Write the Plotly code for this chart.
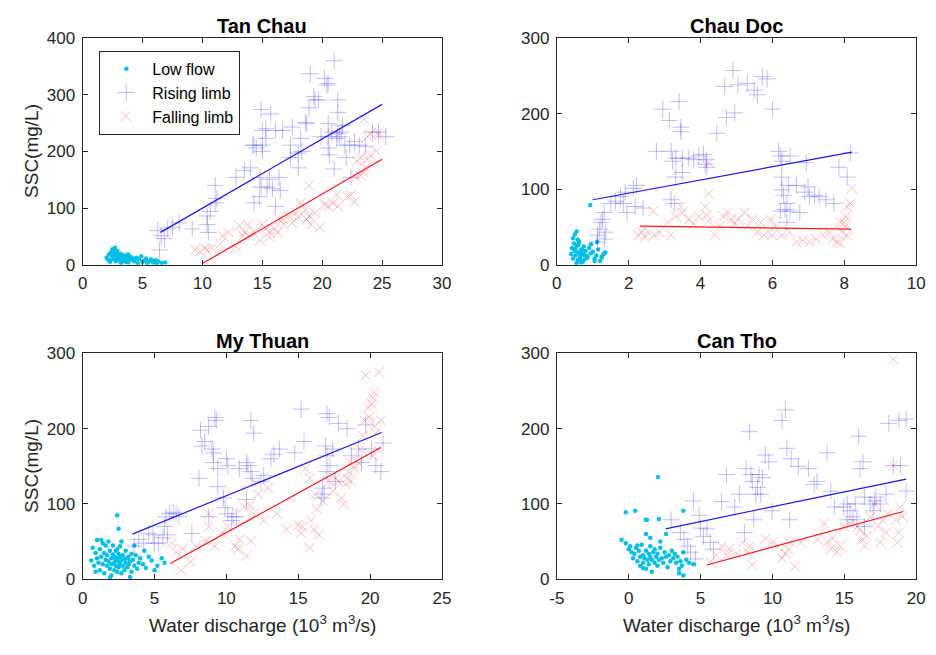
import plotly.graph_objects as go

# ---------------- DATA ----------------
# Tan Chau
tc_low_x = [2.0,2.2,2.3,2.4,2.5,2.5,2.6,2.7,2.8,2.8,2.9,3.0,3.0,3.1,3.2,3.3,3.4,3.5,3.6,3.7,3.8,3.9,4.0,4.1,4.3,4.5,4.7,4.9,5.1,5.3,5.5,5.7,5.9,6.1,6.3,6.6,6.9,2.3,2.6,2.9,3.2,3.5,3.8,4.2,4.6,5.0,5.4,5.8,6.2,2.1,2.7,3.1,3.6,4.4]
tc_low_y = [12,18,8,22,15,27,10,20,6,14,24,11,17,9,19,13,7,16,5,12,18,8,14,10,6,12,9,15,7,11,5,9,4,8,6,3,4,5,25,13,3,9,4,11,2,5,3,6,2,9,30,16,14,10]
tc_rise_x = [6.28,6.56,6.83,6.42,7.1,7.5,8.06,9.15,10.4,10.66,11.07,11.2,10.5,10.4,11.07,12.8,14.0,14.2,14.3,14.5,14.8,14.3,14.75,14.9,15.4,15.6,16.4,16.1,15.85,16.5,14.9,15.0,15.3,15.7,15.3,15.0,16.7,17.5,17.35,18.0,18.3,18.6,18.7,18.9,19.3,19.4,19.7,19.0,20.2,20.4,20.5,21.0,20.5,20.8,20.5,20.6,21.0,21.3,21.3,21.3,21.45,21.6,21.2,21.7,21.9,22.0,22.3,22.7,22.4,23.1,23.6,24.2,24.7,25.3,17.35,18.0,18.2,19.9,20.5,16.1,15.0,13.5]
tc_rise_y = [60,51,46,26,63,66,74,63,86,94,109,117,57,71,140,154,171,211,211,206,154,109,120,137,137,151,154,103,134,131,274,237,240,266,223,211,237,243,211,197,200,251,249,277,297,291,291,337,329,317,320,360,249,234,206,194,169,291,269,231,226,234,223,246,211,189,211,217,154,211,209,234,234,226,189,171,223,226,226,237,200,166]
tc_fall_x = [9.4,9.8,10.2,10.4,10.8,11.5,12.2,12.8,13.1,13.5,13.9,14.3,14.8,15.0,15.3,15.6,16.0,16.3,16.7,17.2,17.5,17.8,18.2,18.6,18.9,19.1,19.4,19.8,20.2,20.5,20.9,21.2,21.3,22.1,22.4,22.7,18.9,22.8,23.2,23.4,23.6,23.8,24.0,24.5,23.2,22.9,23.5,23.8,24.0,24.7,24.7,18.0,18.7,16.4,13.8,11.7,13.4,15.6,16.8]
tc_fall_y = [26,23,29,26,29,37,57,31,69,57,51,57,43,71,63,57,63,57,80,86,74,91,109,97,86,71,91,66,106,103,109,123,103,120,123,111,140,154,157,163,171,186,194,200,189,183,257,226,231,229,234,83,80,80,71,51,51,49,71]
tc_rise_fit_x = [6.5, 25.0]
tc_rise_fit_y = [57, 283]
tc_fall_fit_x = [10.0, 25.0]
tc_fall_fit_y = [2, 186]

# Chau Doc
cd_low_x = [0.40,0.42,0.45,0.48,0.50,0.52,0.55,0.58,0.60,0.62,0.65,0.68,0.70,0.72,0.75,0.78,0.80,0.85,0.90,0.95,1.00,1.05,1.10,1.15,1.20,1.25,1.30,1.35,0.45,0.50,0.55,0.60,0.65,0.70,0.75,0.85,0.95,1.05,1.25,0.52,0.58,0.64,0.93,0.55,0.47,0.68,1.12,0.78]
cd_low_y = [14,22,8,28,18,12,25,6,16,30,10,20,14,4,24,12,18,9,22,15,17,8,12,20,5,10,14,16,35,40,2,26,7,19,13,11,27,5,9,21,33,15,79,44,20,3,30,7]
cd_rise_x = [1.13,1.18,1.23,1.27,1.32,1.13,1.32,1.36,1.5,1.63,1.77,1.86,1.9,1.95,2.13,2.22,2.18,2.4,2.77,2.95,3.13,3.18,3.22,3.18,3.27,3.4,3.45,3.45,3.31,3.49,3.49,3.31,3.67,3.81,3.95,4.08,4.17,4.17,4.13,4.45,4.67,4.72,4.9,4.95,5.04,5.3,5.49,5.58,5.72,5.85,6.0,6.17,6.22,6.26,6.26,6.31,6.35,6.4,6.44,6.49,6.67,6.76,6.9,6.99,7.03,7.17,7.3,7.49,7.71,7.85,8.08,8.17,6.22,6.4,6.94,6.49,6.26]
cd_rise_y = [39,47,56,60,69,30,34,43,81,84,90,81,96,69,101,105,77,75,150,206,191,150,137,86,81,216,182,176,141,141,122,116,141,139,144,146,139,129,133,174,236,195,257,201,238,240,231,225,249,246,206,150,144,116,99,92,73,81,105,71,105,69,96,103,90,92,90,86,81,129,116,148,71,56,135,144,137]
cd_fall_x = [2.27,2.36,2.45,2.54,2.68,2.72,2.86,3.09,3.18,3.31,3.45,3.49,3.67,3.81,3.95,4.13,4.17,4.22,4.22,4.22,4.4,4.54,4.63,4.76,4.86,4.95,5.04,5.22,5.31,5.44,5.58,5.67,5.76,5.94,5.99,6.08,6.26,6.49,6.67,6.85,7.03,7.21,7.4,7.58,7.67,7.8,7.89,7.94,7.99,8.03,8.08,8.17,8.21,7.89,8.08,8.03]
cd_fall_y = [39,43,36,43,71,39,43,56,39,64,77,69,60,54,64,77,66,58,135,94,39,51,64,69,60,54,60,69,51,60,43,56,39,60,39,51,39,43,30,32,30,34,39,43,34,30,28,43,56,51,77,81,101,56,39,64]
cd_rise_fit_x = [1.0, 8.21]
cd_rise_fit_y = [86, 149]
cd_fall_fit_x = [2.31, 8.19]
cd_fall_fit_y = [51, 47]

# My Thuan
mt_low_x = [0.6,0.7,0.8,0.9,1.0,1.0,1.1,1.2,1.2,1.3,1.4,1.4,1.5,1.5,1.6,1.6,1.7,1.7,1.8,1.8,1.9,1.9,2.0,2.0,2.0,2.1,2.1,2.2,2.2,2.2,2.3,2.3,2.3,2.4,2.4,2.4,2.5,2.5,2.5,2.6,2.6,2.6,2.7,2.7,2.8,2.8,2.9,2.9,3.0,3.0,3.1,3.1,3.2,3.2,3.3,3.4,3.4,3.5,3.6,3.7,3.8,3.9,4.0,4.2,4.4,4.6,4.8,5.0,5.2,5.5,5.7,2.4,2.5,1.3,0.9,3.6,4.3,1.9,2.7,3.3]
mt_low_y = [25,42,18,35,28,52,22,40,12,30,48,20,35,8,26,45,18,32,24,50,14,38,28,20,5,33,45,22,30,12,26,38,18,28,10,40,24,34,16,30,20,44,25,8,32,18,27,12,22,38,28,16,30,20,24,34,10,26,18,32,14,22,28,20,15,30,25,12,18,28,22,85,67,52,10,45,38,2,50,3]
mt_rise_x = [3.57,3.9,4.25,4.6,4.9,5.0,5.27,5.6,5.7,5.8,6.06,6.3,6.5,6.7,5.9,7.6,8.1,8.2,8.3,8.5,8.77,8.77,9.0,9.1,9.2,9.3,9.1,9.4,9.4,9.8,9.9,10.0,10.1,10.1,10.35,10.46,10.7,10.9,11.4,11.4,11.5,11.7,11.9,11.7,11.8,12.4,12.6,13.1,13.3,13.7,14.76,15.2,15.4,17.0,17.15,17.0,17.2,17.4,16.9,16.8,16.7,17.0,16.6,17.8,18.4,18.7,19.2,19.4,19.7,20.1,20.4,20.9,20.75,17.6]
mt_rise_y = [44,53,48,61,59,48,48,55,70,83,87,89,87,83,59,61,134,198,177,183,83,203,173,168,215,211,155,147,123,108,95,160,151,87,78,83,83,147,155,106,151,211,194,143,134,130,138,160,166,173,168,226,183,220,215,164,151,173,177,113,121,143,108,207,200,164,173,155,205,173,151,181,143,130]
mt_fall_x = [6.2,6.5,6.85,6.96,7.5,7.86,8.54,8.77,8.77,9.2,9.7,10.1,10.6,10.8,10.9,11.25,11.4,11.7,11.9,11.6,12.2,12.9,14.2,15.0,15.2,15.3,15.8,15.9,16.3,16.7,16.45,16.1,16.2,15.5,15.8,17.1,17.4,17.6,17.8,18.0,18.15,18.3,18.4,18.5,18.6,18.9,19.2,19.3,19.5,19.6,19.7,19.85,19.95,20.1,20.2,20.3,20.3,20.4,20.5,20.75,20.6,20.2,18.7,12.6,13.5]
mt_fall_y = [48,36,12,40,23,44,51,87,70,44,61,70,44,40,53,96,31,51,87,98,113,121,66,72,61,70,42,78,93,104,59,66,113,147,134,130,117,134,130,108,100,126,134,143,155,147,155,173,190,211,271,228,215,233,241,248,203,194,173,211,275,164,130,78,87]
mt_rise_fit_x = [3.46, 20.8]
mt_rise_fit_y = [60, 195]
mt_fall_fit_x = [6.1, 20.75]
mt_fall_fit_y = [21, 175]

# Can Tho
ct_low_x = [2.04,-0.2,0.45,1.18,1.27,2.1,3.8,-0.5,-0.2,0.0,0.1,0.2,0.3,0.4,0.5,0.6,0.7,0.8,0.8,0.9,1.0,1.0,1.1,1.2,1.2,1.3,1.4,1.4,1.5,1.5,1.6,1.6,1.7,1.8,1.8,1.9,2.0,2.0,2.1,2.2,2.3,2.4,2.5,2.6,2.7,2.8,2.9,3.0,3.1,3.2,3.3,3.4,3.5,3.6,3.7,3.8,4.0,4.2,4.5,1.2,1.5,2.2,2.6,0.6,1.0,3.5,3.8]
ct_low_y = [136,89,91,79,79,80,91,52,48,40,44,36,28,34,42,24,38,30,18,46,32,22,28,38,14,26,34,20,44,30,10,26,36,22,40,30,18,34,26,42,28,22,36,30,16,32,24,38,28,34,22,30,14,24,18,36,26,22,20,60,55,50,60,45,15,8,5]
ct_rise_x = [2.95,3.6,3.85,4.1,4.3,4.5,4.65,4.9,5.0,5.2,5.44,5.67,5.9,6.46,6.8,7.37,7.7,8.05,8.16,8.4,8.5,8.6,8.7,8.84,8.96,9.07,9.18,9.3,9.5,9.75,9.98,10.66,10.9,11.0,11.3,11.2,11.8,12.5,12.9,13.1,13.8,14.06,14.3,14.96,15.2,15.4,15.6,15.76,15.87,16.0,16.1,16.3,16.4,16.8,17.0,17.1,17.2,17.5,17.9,18.1,18.4,18.8,18.9,19.3,19.3,15.2,16.4]
ct_rise_y = [79,62,53,44,36,104,27,85,68,57,67,49,40,103,139,96,113,62,147,196,139,130,79,113,122,139,113,135,165,156,91,211,225,174,160,79,150,147,126,130,168,117,96,96,100,91,83,100,79,190,147,156,109,100,91,104,109,100,113,207,151,211,151,213,117,79,70]
ct_fall_x = [5.67,6.1,6.46,6.8,7.0,7.5,7.94,8.3,8.4,8.6,9.5,9.98,10.4,10.66,10.9,11.1,11.2,11.56,12.0,13.15,13.6,13.8,14.06,14.2,14.5,14.7,14.96,15.4,16.1,16.2,16.4,16.55,16.8,17.1,17.35,17.5,17.7,17.9,18.0,18.4,18.4,18.6,18.8,18.9,19.05,18.7,15.9]
ct_fall_y = [23,32,44,32,40,34,49,36,44,19,54,49,44,28,34,40,49,17,49,53,74,49,40,55,36,44,70,74,66,53,44,57,83,100,70,49,79,62,87,151,292,79,62,96,83,49,70]
ct_rise_fit_x = [2.56, 19.3]
ct_rise_fit_y = [67, 133]
ct_fall_fit_x = [5.44, 19.1]
ct_fall_fit_y = [19, 90]

titles = ["Tan Chau", "Chau Doc", "My Thuan", "Can Tho"]
x_ranges = [[0, 30], [0, 10], [0, 25], [-5, 20]]
x_tickvals = [[0, 5, 10, 15, 20, 25, 30], [0, 2, 4, 6, 8, 10], [0, 5, 10, 15, 20, 25], [-5, 0, 5, 10, 15, 20]]
x_ticktext = [["0", "5", "10", "15", "20", "25", "30"], ["0", "2", "4", "6", "8", "10"],
              ["0", "5", "10", "15", "20", "25"], ["-5", "0", "5", "10", "15", "20"]]
y_ranges = [[0, 400], [0, 300], [0, 300], [0, 300]]
y_dtick = 100
legend_names = ["Low flow", "Rising limb", "Falling limb"]

# ---------------- FIGURE ----------------
CYAN = "rgb(0,190,228)"
BLUE_M = "rgba(40,40,255,0.30)"
RED_M = "rgba(255,40,40,0.30)"
BLUE_L = "rgb(25,25,235)"
RED_L = "rgb(255,20,20)"
AX = "#262626"
FONT = "Liberation Sans, Arial, sans-serif"

panels = [
    (tc_low_x, tc_low_y, tc_rise_x, tc_rise_y, tc_fall_x, tc_fall_y, tc_rise_fit_x, tc_rise_fit_y, tc_fall_fit_x, tc_fall_fit_y),
    (cd_low_x, cd_low_y, cd_rise_x, cd_rise_y, cd_fall_x, cd_fall_y, cd_rise_fit_x, cd_rise_fit_y, cd_fall_fit_x, cd_fall_fit_y),
    (mt_low_x, mt_low_y, mt_rise_x, mt_rise_y, mt_fall_x, mt_fall_y, mt_rise_fit_x, mt_rise_fit_y, mt_fall_fit_x, mt_fall_fit_y),
    (ct_low_x, ct_low_y, ct_rise_x, ct_rise_y, ct_fall_x, ct_fall_y, ct_rise_fit_x, ct_rise_fit_y, ct_fall_fit_x, ct_fall_fit_y),
]

W, H = 936, 655
# plot boxes in pixels (left, right, top, bottom)
boxes = [(76, 442, 30, 263.3), (559, 925, 30, 263.3), (76, 442, 354.7, 587.3), (559, 925, 354.7, 587.3)]

def px(v):
    return v / W

def py(v):
    return 1 - v / H

fig = go.Figure()
layout = dict(
    width=W, height=H, margin=dict(l=0, r=0, t=0, b=0),
    paper_bgcolor="white", plot_bgcolor="white",
    font=dict(family=FONT, size=17, color=AX),
    showlegend=True,
    legend=dict(x=px(93), y=py(43), xanchor="left", yanchor="top",
                bgcolor="white", bordercolor=AX, borderwidth=1,
                font=dict(size=16, color="black", family=FONT), tracegroupgap=0,
                itemwidth=42),
)
annotations = []
for i, (p, box) in enumerate(zip(panels, boxes)):
    n = "" if i == 0 else str(i + 1)
    xa, ya = "x" + n, "y" + n
    lowx, lowy, rx, ry, fx, fy, rfx, rfy, ffx, ffy = p
    show = i == 0
    fig.add_trace(go.Scatter(x=lowx, y=lowy, mode="markers", name=legend_names[0], showlegend=show,
                             marker=dict(symbol="circle", size=4.5, color=CYAN), xaxis=xa, yaxis=ya))
    fig.add_trace(go.Scatter(x=rx, y=ry, mode="markers", name=legend_names[1], showlegend=show,
                             marker=dict(symbol="cross-thin", size=12, color=BLUE_M,
                                         line=dict(color=BLUE_M, width=1)), xaxis=xa, yaxis=ya))
    fig.add_trace(go.Scatter(x=fx, y=fy, mode="markers", name=legend_names[2], showlegend=show,
                             marker=dict(symbol="x-thin", size=10, color=RED_M,
                                         line=dict(color=RED_M, width=1)), xaxis=xa, yaxis=ya))
    fig.add_trace(go.Scatter(x=rfx, y=rfy, mode="lines", showlegend=False,
                             line=dict(color=BLUE_L, width=1.2), xaxis=xa, yaxis=ya))
    fig.add_trace(go.Scatter(x=ffx, y=ffy, mode="lines", showlegend=False,
                             line=dict(color=RED_L, width=1.2), xaxis=xa, yaxis=ya))
    l, r, t, b = box
    common = dict(showline=True, mirror="ticks", linecolor=AX, linewidth=1, ticks="inside",
                  ticklen=5, tickcolor=AX, showgrid=False, zeroline=False,
                  ticklabelstandoff=3,
                  tickfont=dict(size=17, color=AX, family=FONT))
    layout["xaxis" + n] = dict(domain=[px(l), px(r)], range=x_ranges[i], tickmode="array",
                               tickvals=x_tickvals[i], ticktext=x_ticktext[i],
                               anchor=ya, **common)
    layout["yaxis" + n] = dict(domain=[py(b), py(t)], range=y_ranges[i], dtick=y_dtick,
                               tick0=0, anchor=xa, **common)
    annotations.append(dict(text="<b>" + titles[i] + "</b>", x=px((l + r) / 2), y=py(t - 13),
                            xref="paper", yref="paper", showarrow=False, xanchor="center",
                            yanchor="middle", font=dict(size=20, color="black", family=FONT)))
    if i in (0, 2):
        annotations.append(dict(text="SSC(mg/L)", x=px(24), y=py((t + b) / 2), xref="paper",
                                yref="paper", showarrow=False, textangle=-90, xanchor="center",
                                yanchor="middle", font=dict(size=19, color=AX, family=FONT)))
    if i in (2, 3):
        annotations.append(dict(text="Water discharge (10<sup>3</sup> m<sup>3</sup>/s)",
                                x=px((l + r) / 2), y=py(633), xref="paper", yref="paper",
                                showarrow=False, xanchor="center", yanchor="middle",
                                font=dict(size=19, color=AX, family=FONT)))
layout["annotations"] = annotations
fig.update_layout(**layout)
fig.write_html("out.html")
